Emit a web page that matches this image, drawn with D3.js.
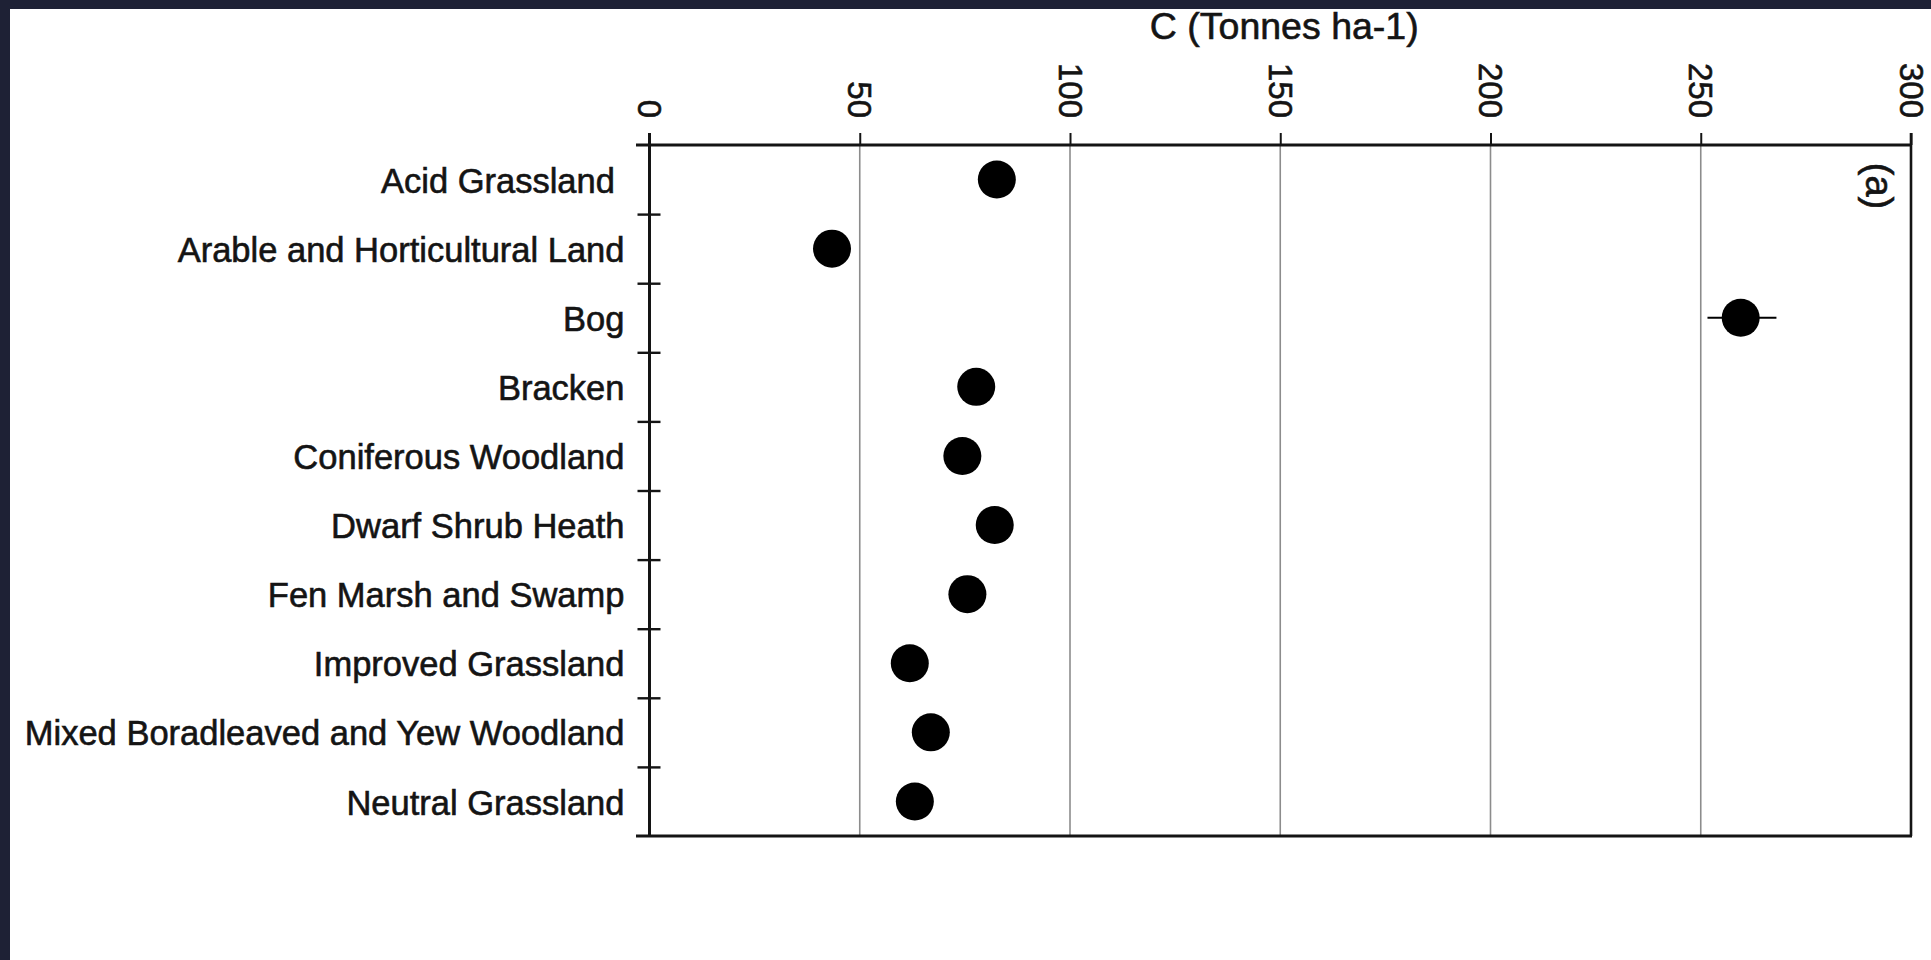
<!DOCTYPE html>
<html>
<head>
<meta charset="utf-8">
<script src="https://cdn.jsdelivr.net/npm/d3@7"></script>
<style>
  html, body { margin: 0; padding: 0; background: #1e2135; }
  svg { display: block; }
  text { font-family: "Liberation Sans", Arial, Helvetica, sans-serif; fill: #141414; stroke: #141414; stroke-width: 0.6px; }
</style>
</head>
<body>
<svg id="chart" width="1931" height="960"></svg>
<script>
// Soil carbon stock by habitat class (mean, tonnes per hectare)
const categories = [
  "Acid Grassland ",
  "Arable and Horticultural Land",
  "Bog",
  "Bracken",
  "Coniferous Woodland",
  "Dwarf Shrub Heath",
  "Fen Marsh and Swamp",
  "Improved Grassland",
  "Mixed Boradleaved and Yew Woodland",
  "Neutral Grassland"
];
const carbon = [82.6, 43.4, 259.5, 77.7, 74.4, 82.1, 75.6, 61.9, 66.9, 63.1];
// interval ends; null where the interval is hidden behind the point
const ciLower = [null, null, 251.6, null, null, null, null, null, null, null];
const ciUpper = [null, null, 268.0, null, null, null, null, null, null, null];
const xTicks = [0, 50, 100, 150, 200, 250, 300];
const xDomain = [0, 300];
const axisTitle = "C (Tonnes ha-1)";
const panelTag = "(a)";

const W = 1931, H = 960;
const plot = { left: 649.5, right: 1911, top: 145, bottom: 836 };
const ink = "#141414";

const svg = d3.select("#chart");

// dark surround and white page
svg.append("rect").attr("width", W).attr("height", H).attr("fill", "#1e2135");
svg.append("rect").attr("x", 10).attr("y", 9).attr("width", W - 10).attr("height", H - 9).attr("fill", "#ffffff");

const x = d3.scaleLinear().domain(xDomain).range([plot.left, plot.right]);
const yBand = d3.scaleBand().domain(categories).range([plot.top, plot.bottom]);
const yIdx = d3.scaleLinear().domain([0, categories.length]).range([plot.top, plot.bottom]);

// vertical grid lines
svg.append("g")
  .selectAll("line")
  .data(xTicks.filter(t => t > xDomain[0] && t < xDomain[1]))
  .join("line")
  .attr("x1", d => x(d)).attr("x2", d => x(d))
  .attr("y1", plot.top).attr("y2", plot.bottom)
  .attr("stroke", "#8c8c8c").attr("stroke-width", 1.6);

// top value axis
const gTop = svg.append("g").attr("transform", `translate(0,${plot.top})`)
  .call(d3.axisTop(x).tickValues(xTicks).tickSize(12).tickSizeOuter(0).tickFormat(d3.format("d")));
gTop.select(".domain").remove();
gTop.selectAll(".tick line").attr("stroke", ink).attr("stroke-width", 2);
gTop.selectAll(".tick text")
  .attr("transform", "rotate(90)")
  .attr("x", -27).attr("y", 0).attr("dy", "0.36em")
  .attr("text-anchor", "end")
  .style("font-size", "33px")
  .attr("fill", ink);

// frame lines: top, bottom, right
svg.append("line").attr("x1", plot.left - 13.5).attr("x2", plot.right + 1)
  .attr("y1", plot.top).attr("y2", plot.top).attr("stroke", ink).attr("stroke-width", 3);
svg.append("line").attr("x1", plot.left - 13.5).attr("x2", plot.right + 1)
  .attr("y1", plot.bottom).attr("y2", plot.bottom).attr("stroke", ink).attr("stroke-width", 3);
svg.append("line").attr("x1", x(xDomain[1])).attr("x2", x(xDomain[1]))
  .attr("y1", plot.top - 12).attr("y2", plot.bottom).attr("stroke", ink).attr("stroke-width", 2.6);

// left category axis with crossing separator ticks
const gLeft = svg.append("g").attr("transform", `translate(${plot.left},0)`)
  .call(d3.axisLeft(yIdx).tickValues(d3.range(1, categories.length)).tickSize(12).tickSizeOuter(0).tickFormat(""));
gLeft.select(".domain").attr("stroke", ink).attr("stroke-width", 3)
  .attr("d", `M0,${plot.top - 12}V${plot.bottom}`);
gLeft.selectAll(".tick line").attr("x1", 11).attr("stroke", ink).attr("stroke-width", 2.4);

const gLab = svg.append("g").attr("transform", `translate(${plot.left},0)`)
  .call(d3.axisLeft(yBand).tickSize(0).tickPadding(25));
gLab.select(".domain").remove();
gLab.selectAll(".tick text")
  .attr("dy", "0.38em")
  .style("font-size", "34.5px")
  .style("white-space", "pre")
  .attr("fill", ink);

// confidence intervals
const cy = d => yBand(d) + yBand.bandwidth() / 2;
svg.append("g")
  .selectAll("line")
  .data(categories.map((c, i) => ({ c, lo: ciLower[i], hi: ciUpper[i] })).filter(d => d.lo != null))
  .join("line")
  .attr("x1", d => x(d.lo)).attr("x2", d => x(d.hi))
  .attr("y1", d => cy(d.c)).attr("y2", d => cy(d.c))
  .attr("stroke", "#000").attr("stroke-width", 2.2);

// mean points
svg.append("g")
  .selectAll("circle")
  .data(categories.map((c, i) => ({ c, v: carbon[i] })))
  .join("circle")
  .attr("cx", d => x(d.v))
  .attr("cy", d => cy(d.c))
  .attr("r", 19)
  .attr("fill", "#000");

// axis title
svg.append("text")
  .attr("x", (plot.left + plot.right) / 2 + 4).attr("y", 39)
  .attr("text-anchor", "middle")
  .style("font-size", "37.5px")
  .text(axisTitle);

// panel tag
svg.append("text")
  .attr("transform", `translate(1880,186) rotate(90)`)
  .attr("text-anchor", "middle").attr("dy", "0.36em")
  .style("font-size", "38px")
  .text(panelTag);
</script>
</body>
</html>
